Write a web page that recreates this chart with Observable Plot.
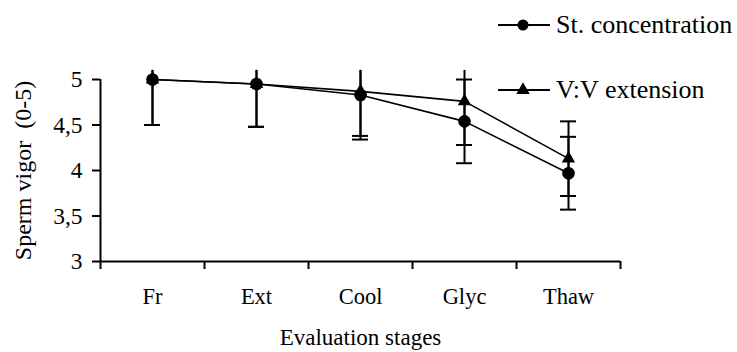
<!DOCTYPE html>
<html>
<head>
<meta charset="utf-8">
<script src="https://cdn.jsdelivr.net/npm/d3@7"></script>
<script src="https://cdn.jsdelivr.net/npm/@observablehq/plot@0.6"></script>
<style>
  html, body { margin: 0; padding: 0; background: #fff; }
  #wrap { position: relative; width: 737px; height: 352px; font-family: "Liberation Serif", "Times New Roman", serif; color: #000; }
  #legend { position: absolute; left: 0; top: 0; width: 737px; height: 352px; pointer-events: none; font-family: "Liberation Serif", "Times New Roman", serif; }
  #legend text { font-family: "Liberation Serif", "Times New Roman", serif; font-size: 26px; fill: #000; }
</style>
</head>
<body>
<div id="wrap"></div>
<script>
// ---- data ----
const stages = ["Fr", "Ext", "Cool", "Glyc", "Thaw"];
const seriesNames = ["St. concentration", "V:V extension"];
const stConc = [5.0, 4.95, 4.83, 4.54, 3.97];
const stErr  = [0.50, 0.47, 0.45, 0.46, 0.40];
const vvExt  = [5.0, 4.95, 4.87, 4.76, 4.13];
const vvErr  = [0.50, 0.47, 0.53, 0.48, 0.41];
const yTicks = [3, 3.5, 4, 4.5, 5];
const yTop = 5.1; // plot-area clip for whiskers
const xTitle = "Evaluation stages";
const yTitle = "Sperm vigor\u00a0 (0-5)";

// ---- table ----
const rows = [];
stages.forEach((s, i) => {
  rows.push({stage: s, series: seriesNames[0], value: stConc[i], err: stErr[i]});
  rows.push({stage: s, series: seriesNames[1], value: vvExt[i], err: vvErr[i]});
});
const xi = d => stages.indexOf(d.stage) + 0.5;
const caps = [];
rows.forEach(d => {
  caps.push({stage: d.stage, y: d.value - d.err});
  if (d.value + d.err <= yTop) caps.push({stage: d.stage, y: d.value + d.err});
});

const font = '"Liberation Serif", "Times New Roman", serif';

const chart = Plot.plot({
  width: 737,
  height: 352,
  marginLeft: 100,
  marginRight: 117,
  marginTop: 79,
  marginBottom: 91,
  style: {fontFamily: font, fontSize: "22px", color: "#000", background: "#fff"},
  x: {domain: [0, stages.length], axis: null},
  y: {domain: [3, 5], axis: null},
  marks: [
    // axis lines
    Plot.ruleX([0], {stroke: "#000", strokeWidth: 2}),
    Plot.ruleY([3], {stroke: "#000", strokeWidth: 2}),
    // x boundary ticks
    Plot.axisX({ticks: d3.range(stages.length + 1), tickSize: 8, tickFormat: () => "", strokeWidth: 2, label: null}),
    // x category labels
    Plot.axisX({ticks: stages.map((s, i) => i + 0.5), tickSize: 0, tickPadding: 27,
      tickFormat: v => stages[Math.floor(v)], fontSize: 22.5, label: null}),
    // y axis
    Plot.axisY({ticks: yTicks, tickSize: 8, tickPadding: 10, strokeWidth: 2,
      tickFormat: d => String(d).replace(".", ","), fontSize: 23.5, label: null}),
    // titles
    Plot.text([xTitle], {frameAnchor: "bottom", textAnchor: "middle", dy: 76, lineAnchor: "middle", fontSize: 23, fill: "#000"}),
    Plot.text([yTitle], {frameAnchor: "left", textAnchor: "middle", dx: -77, rotate: -90, lineAnchor: "middle", fontSize: 24, fill: "#000"}),
    // lines
    Plot.line(rows, {x: xi, y: "value", z: "series", stroke: "#000", strokeWidth: 1.6}),
    // error bars
    Plot.ruleX(rows, {x: xi, y1: d => d.value - d.err, y2: d => Math.min(d.value + d.err, yTop), stroke: "#000", strokeWidth: 2}),
    Plot.ruleY(caps, {x1: xi, x2: xi, y: "y", insetLeft: -8, insetRight: -8, stroke: "#000", strokeWidth: 2}),
    // markers
    Plot.dot(rows.filter(d => d.series === seriesNames[1]), {x: xi, y: "value", symbol: "triangle", r: 5, fill: "#000", stroke: "none"}),
    Plot.dot(rows.filter(d => d.series === seriesNames[0]), {x: xi, y: "value", symbol: "circle", r: 6.3, fill: "#000", stroke: "none"})
  ]
});

const wrap = document.getElementById("wrap");
wrap.appendChild(chart);

// ---- legend (overlay) ----
const ns = "http://www.w3.org/2000/svg";
const leg = document.createElementNS(ns, "svg");
leg.setAttribute("id", "legend");
leg.setAttribute("width", 737);
leg.setAttribute("height", 352);
const legendY = [25, 90];
seriesNames.forEach((name, k) => {
  const y = legendY[k];
  const line = document.createElementNS(ns, "line");
  line.setAttribute("x1", 498); line.setAttribute("x2", 550);
  line.setAttribute("y1", y); line.setAttribute("y2", y);
  line.setAttribute("stroke", "#000"); line.setAttribute("stroke-width", 2);
  leg.appendChild(line);
  const sym = document.createElementNS(ns, "path");
  const type = k === 0 ? d3.symbolCircle : d3.symbolTriangle;
  const size = k === 0 ? Math.PI * 5.5 * 5.5 : Math.PI * 5 * 5;
  sym.setAttribute("d", d3.symbol(type, size)());
  sym.setAttribute("transform", `translate(523,${y})`);
  sym.setAttribute("fill", "#000");
  leg.appendChild(sym);
  const t = document.createElementNS(ns, "text");
  t.setAttribute("x", 556); t.setAttribute("y", y + 8);
  t.textContent = name;
  leg.appendChild(t);
});
wrap.appendChild(leg);
</script>
</body>
</html>
